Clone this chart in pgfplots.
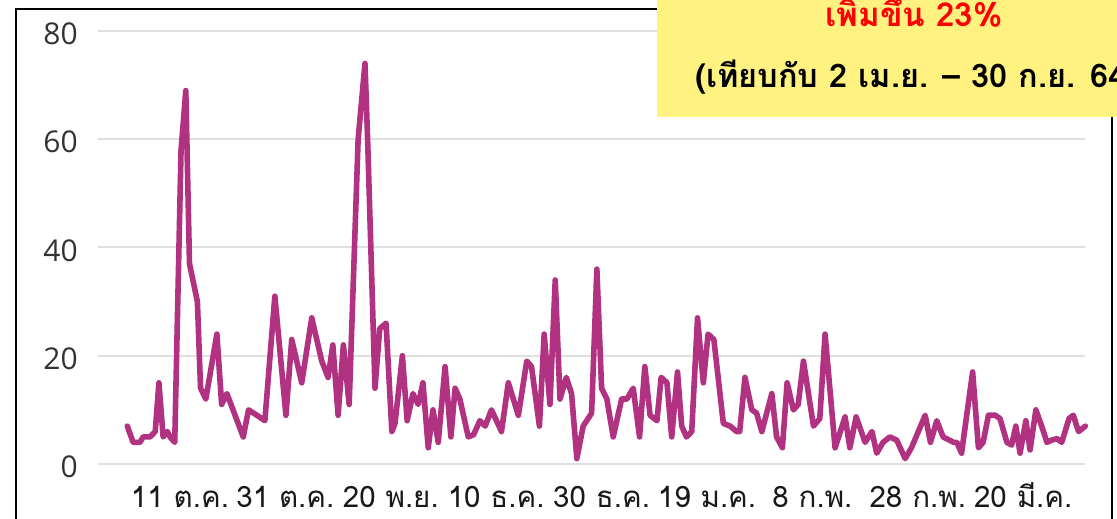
\documentclass[border=0pt]{standalone}
\usepackage{fontspec}
\usepackage{pgfplots}
\usepackage{pgfplotstable}
\pgfplotsset{compat=1.18}
\setmainfont{Open Sans}
\newfontfamily\thaifont[Script=Thai]{Loma}
\definecolor{linec}{RGB}{176,50,128}
\definecolor{gridc}{RGB}{224,224,224}
\definecolor{boxc}{RGB}{255,242,128}
\pgfplotstableread{
d v
0 7
1.1 4
2.4 4
3.0 5
4.3 5
5.3 6
6.0 15
6.8 5
7.6 6
8.1 5
9.0 4
10.2 58
11.1 69
11.8 37
13.3 30
13.9 14
14.9 12
17.0 24
17.9 11
18.9 13
22.0 5
23.0 10
24.6 9
26.1 8
28.0 31
30.1 9
31.2 23
33.1 15
35.0 27
36.9 19
38.1 16
39.0 22
40.0 9
41.0 22
42.1 11
43.8 60
45.1 74
45.6 60
47.0 14
47.9 25
49.1 26
50.2 6
50.8 7.5
52.2 20
53.1 8
54.2 13
55.2 11
56.1 15
57.1 3
58.0 10
59.0 4
60.3 18
61.4 5
62.2 14
63.1 12
64.7 5
65.7 5.4
66.9 8
67.9 7
69.1 10
71.0 6
72.3 15
74.2 9
75.8 19
76.7 18
78.2 7
79.1 24
80.2 11
81.2 34
82.1 12
83.3 16
84.3 13
85.3 1
86.5 7
88.1 9.4
89.1 36
90.0 14
91.0 12
92.2 5
93.8 12
94.8 12
96.0 14
97.2 5
98.2 18
99.2 9
100.5 8
101.3 16
102.4 15
103.3 5
104.4 17
105.2 7
106.1 5
107.1 6
108.2 27
109.3 15
110.2 24
111.3 23
113.1 7.5
114.4 7
115.6 6
116.2 6
117.2 16
118.5 10
119.4 9.4
120.4 6
122.3 13
123.2 5
124.3 3
125.2 15
126.4 10
127.3 11
128.3 19
130.2 7
131.4 8.4
132.4 24
134.3 3
136.2 8.7
137.1 3
138.3 8.7
140.0 4
141.3 6
142.2 2
143.4 4
144.7 5
146.0 4.4
147.6 1
148.8 3
151.4 9
152.4 4
153.6 8
154.8 5
156.8 4
157.4 4
158.3 2
160.4 17
161.5 3
162.4 4
163.4 9
164.7 9
165.6 8.4
166.9 4
167.8 3.5
168.6 7
169.4 2
170.5 8
171.3 2.6
172.4 10
173.5 7
174.5 4
175.4 4.4
176.4 4.7
177.3 4
178.7 8.4
179.5 9
180.5 6
181.8 7
}\datatable
\begin{document}
\begin{tikzpicture}[x=1pt,y=1pt]
\useasboundingbox (0,0) rectangle (1117,519);
\fill[white] (0,0) rectangle (1117,519);
\begin{axis}[
  at={(98pt,55pt)}, anchor=south west,
  scale only axis, width=987.4pt, height=433pt,
  xmin=-5.56, xmax=181.8, ymin=0, ymax=80,
  clip=false,
  axis line style={draw=none},
  major tick length=0pt,
  ymajorgrids, grid style={gridc, line width=2pt},
  ytick={0,20,40,60,80},
  xtick={10,30,50,70,90,110,130,150,170},
  xticklabels={11 ต.ค.,31 ต.ค.,20 พ.ย.,10 ธ.ค.,30 ธ.ค.,19 ม.ค.,8 ก.พ.,28 ก.พ.,20 มี.ค.},
  /pgf/number format/assume math mode=true,
  yticklabel style={anchor=east, inner sep=0pt, xshift=-20pt, yshift=-3pt,
    font=\fontsize{30}{30}\selectfont, text=black!80},
  xticklabel style={anchor=base, inner sep=0pt, yshift=-44pt,
    font=\thaifont\fontsize{29.5}{29.5}\selectfont, text=black!90},
]
\addplot[linec, line width=5.6pt, line join=round, line cap=round] table[x=d,y=v]{\datatable};
\end{axis}
\draw[line width=2pt, black] (16,0) -- (16,510) -- (657,510);
\draw[line width=2.5pt, black] (1112,0) -- (1112,403);
\fill[boxc] (657,402) rectangle (1117,519);
\begin{scope}
\clip (0,0) rectangle (1117,519);
\node[anchor=base, inner sep=0pt, text=red, font=\thaifont\bfseries\fontsize{33}{33}\selectfont] at (914,492) {เพิ่มขึ้น 23\%};
\node[anchor=base west, inner sep=0pt, text=black, font=\thaifont\bfseries\fontsize{32.5}{32.5}\selectfont] at (695,431.7) {(เทียบกับ 2 เม.ย. – 30 ก.ย. 64)};
\end{scope}
\end{tikzpicture}
\end{document}
